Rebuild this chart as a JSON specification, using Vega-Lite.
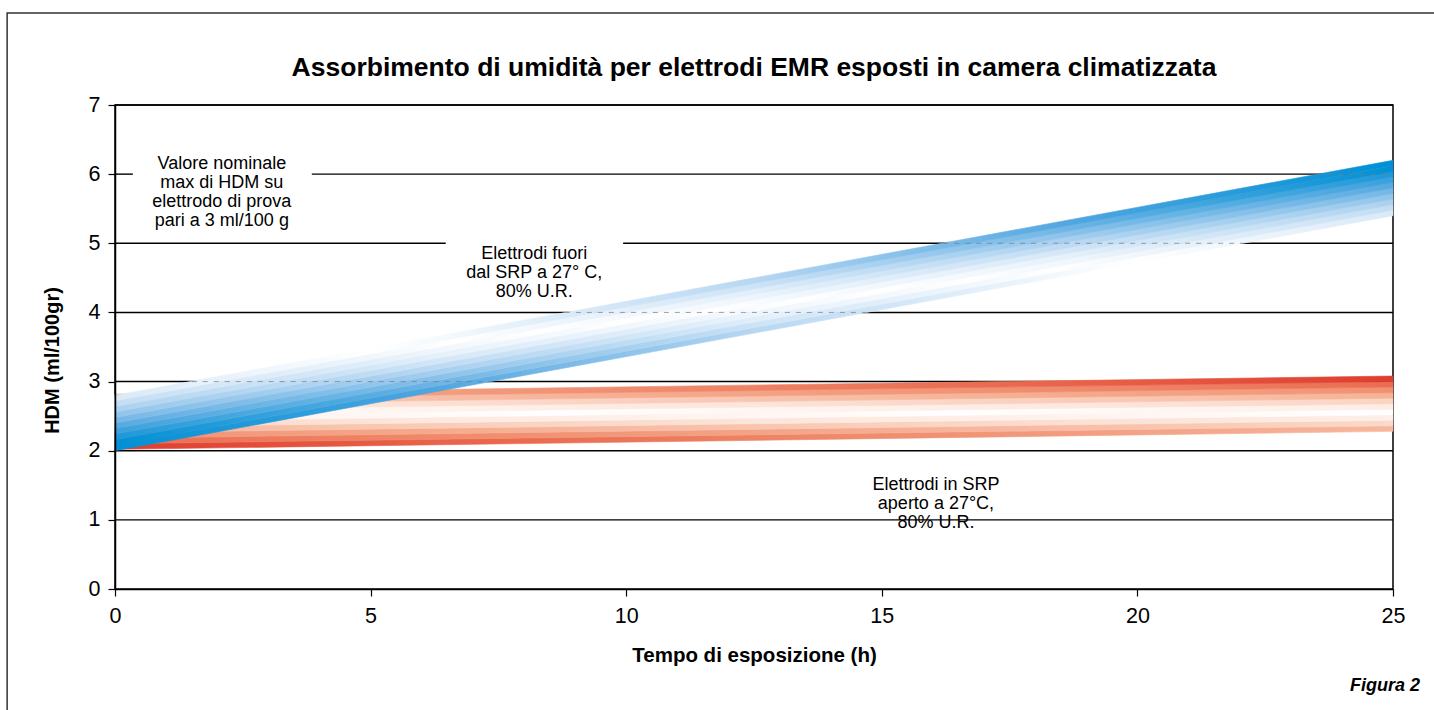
{
 "$schema": "https://vega.github.io/schema/vega-lite/v6.json",
 "autosize": "none",
 "width": 1278,
 "height": 484,
 "padding": {"left": 115, "top": 105, "right": 41, "bottom": 121},
 "background": "white",
 "config": {"font": "Liberation Sans", "view": {"stroke": "#000", "strokeWidth": 1.5}, "axis": {"labelFontSize": 21.5}},
 "title": {"text": "Assorbimento di umidità per elettrodi EMR esposti in camera climatizzata", "fontSize": 26.5, "fontWeight": "bold", "font": "Liberation Sans", "color": "#000", "anchor": "middle", "frame": "group", "baseline": "bottom", "offset": -96},
 "datasets": {
  "frame": [{"x": -2.11, "x2": 27, "y": 8.33, "y2": -2}],
  "grid": [
   {"x": 0, "x2": 25, "y": 1}, {"x": 0, "x2": 25, "y": 2}, {"x": 0, "x2": 25, "y": 3}, {"x": 0, "x2": 25, "y": 4},
   {"x": 0, "x2": 6.47, "y": 5}, {"x": 9.94, "x2": 25, "y": 5},
   {"x": 0, "x2": 0.35, "y": 6}, {"x": 3.85, "x2": 25, "y": 6},
   {"x": 0, "x2": 25, "y": 7}
  ],
  "gridOver": [
   {"x": 1.5, "x2": 7.35, "y": 3}, {"x": 8.8, "x2": 14.7, "y": 4}, {"x": 16.2, "x2": 22.1, "y": 5}, {"x": 23.5, "x2": 25, "y": 6}
  ],
  "red": [
   {"s": 0, "x": 0, "y": 2.02, "y2": 2.10}, {"s": 0, "x": 25, "y": 2.28, "y2": 2.36},
   {"s": 1, "x": 0, "y": 2.10, "y2": 2.18}, {"s": 1, "x": 25, "y": 2.36, "y2": 2.44},
   {"s": 2, "x": 0, "y": 2.18, "y2": 2.26}, {"s": 2, "x": 25, "y": 2.44, "y2": 2.52},
   {"s": 3, "x": 0, "y": 2.26, "y2": 2.34}, {"s": 3, "x": 25, "y": 2.52, "y2": 2.60},
   {"s": 4, "x": 0, "y": 2.34, "y2": 2.42}, {"s": 4, "x": 25, "y": 2.60, "y2": 2.68},
   {"s": 5, "x": 0, "y": 2.42, "y2": 2.50}, {"s": 5, "x": 25, "y": 2.68, "y2": 2.76},
   {"s": 6, "x": 0, "y": 2.50, "y2": 2.58}, {"s": 6, "x": 25, "y": 2.76, "y2": 2.84},
   {"s": 7, "x": 0, "y": 2.58, "y2": 2.66}, {"s": 7, "x": 25, "y": 2.84, "y2": 2.92},
   {"s": 8, "x": 0, "y": 2.66, "y2": 2.74}, {"s": 8, "x": 25, "y": 2.92, "y2": 3.00},
   {"s": 9, "x": 0, "y": 2.74, "y2": 2.82}, {"s": 9, "x": 25, "y": 3.00, "y2": 3.08}
  ],
  "blue": [
   {"s": 0, "x": 0, "y": 2.00, "y2": 2.08}, {"s": 0, "x": 25, "y": 5.40, "y2": 5.48},
   {"s": 1, "x": 0, "y": 2.08, "y2": 2.16}, {"s": 1, "x": 25, "y": 5.48, "y2": 5.56},
   {"s": 2, "x": 0, "y": 2.16, "y2": 2.24}, {"s": 2, "x": 25, "y": 5.56, "y2": 5.64},
   {"s": 3, "x": 0, "y": 2.24, "y2": 2.32}, {"s": 3, "x": 25, "y": 5.64, "y2": 5.72},
   {"s": 4, "x": 0, "y": 2.32, "y2": 2.40}, {"s": 4, "x": 25, "y": 5.72, "y2": 5.80},
   {"s": 5, "x": 0, "y": 2.40, "y2": 2.48}, {"s": 5, "x": 25, "y": 5.80, "y2": 5.88},
   {"s": 6, "x": 0, "y": 2.48, "y2": 2.56}, {"s": 6, "x": 25, "y": 5.88, "y2": 5.96},
   {"s": 7, "x": 0, "y": 2.56, "y2": 2.64}, {"s": 7, "x": 25, "y": 5.96, "y2": 6.04},
   {"s": 8, "x": 0, "y": 2.64, "y2": 2.72}, {"s": 8, "x": 25, "y": 6.04, "y2": 6.12},
   {"s": 9, "x": 0, "y": 2.72, "y2": 2.80}, {"s": 9, "x": 25, "y": 6.12, "y2": 6.20}
  ],
  "notes": [
   {"x": 2.09, "y": 6.15, "label": "Valore nominale\nmax di HDM su\nelettrodo di prova\npari a 3 ml/100 g"},
   {"x": 8.2, "y": 4.84, "label": "Elettrodi fuori\ndal SRP a 27° C,\n80% U.R."},
   {"x": 16.06, "y": 1.5, "label": "Elettrodi in SRP\naperto a 27°C,\n80% U.R."}
  ],
  "fig": [{"x": 25, "y": 0, "label": "Figura 2"}]
 },
 "encoding": {
  "x": {"field": "x", "type": "quantitative", "scale": {"domain": [0, 25], "nice": false, "zero": false},
   "axis": {"values": [0, 5, 10, 15, 20, 25], "format": "d", "grid": false, "labelFlush": false, "domainColor": "#000", "domainWidth": 1.5, "tickColor": "#000", "tickWidth": 1.2, "tickSize": 7, "labelFontSize": 21.5, "labelColor": "#000", "labelPadding": 9, "labelFont": "Liberation Sans", "title": "Tempo di esposizione (h)", "titleFont": "Liberation Sans", "titleFontSize": 20.5, "titleFontWeight": "bold", "titleColor": "#000", "titlePadding": 19, "zindex": 1}},
  "y": {"field": "y", "type": "quantitative", "scale": {"domain": [0, 7], "nice": false, "zero": false},
   "axis": {"values": [0, 1, 2, 3, 4, 5, 6, 7], "format": "d", "grid": false, "labelFlush": false, "domainColor": "#000", "domainWidth": 1.5, "tickColor": "#000", "tickWidth": 1.2, "tickSize": 7, "labelFontSize": 21.5, "labelColor": "#000", "labelPadding": 8, "labelFont": "Liberation Sans", "title": "HDM (ml/100gr)", "titleFont": "Liberation Sans", "titleFontSize": 20, "titleFontWeight": "bold", "titleColor": "#000", "titlePadding": 26, "titleY": 255, "zindex": 1}}
 },
 "layer": [
  {"data": {"name": "frame"}, "mark": {"type": "rect", "filled": false, "stroke": "#333", "strokeWidth": 1.5, "clip": false}, "encoding": {"x2": {"field": "x2"}, "y2": {"field": "y2"}}},
  {"data": {"name": "grid"}, "mark": {"type": "rule", "color": "#000", "strokeWidth": 1.4}, "encoding": {"x2": {"field": "x2"}}},

  {"data": {"name": "red"}, "transform": [{"filter": "datum.s == 0"}], "mark": {"type": "area", "strokeWidth": 0.6,
   "fill": {"gradient": "linear", "x1": 0, "y1": 0, "x2": 1, "y2": 0, "stops": [{"offset": 0, "color": "#df3d2f"}, {"offset": 0.25, "color": "#e86349"}, {"offset": 0.5, "color": "#ee8264"}, {"offset": 0.75, "color": "#f39d7f"}, {"offset": 1, "color": "#f7b89e"}]},
   "stroke": {"gradient": "linear", "x1": 0, "y1": 0, "x2": 1, "y2": 0, "stops": [{"offset": 0, "color": "#df3d2f"}, {"offset": 0.25, "color": "#e86349"}, {"offset": 0.5, "color": "#ee8264"}, {"offset": 0.75, "color": "#f39d7f"}, {"offset": 1, "color": "#f7b89e"}]}}, "encoding": {"y2": {"field": "y2"}}},
  {"data": {"name": "red"}, "transform": [{"filter": "datum.s == 1"}], "mark": {"type": "area", "strokeWidth": 0.6,
   "fill": {"gradient": "linear", "x1": 0, "y1": 0, "x2": 1, "y2": 0, "stops": [{"offset": 0, "color": "#ea6c50"}, {"offset": 0.25, "color": "#f0896b"}, {"offset": 0.5, "color": "#f4a385"}, {"offset": 0.75, "color": "#f8bea7"}, {"offset": 1, "color": "#fbdacb"}]},
   "stroke": {"gradient": "linear", "x1": 0, "y1": 0, "x2": 1, "y2": 0, "stops": [{"offset": 0, "color": "#ea6c50"}, {"offset": 0.25, "color": "#f0896b"}, {"offset": 0.5, "color": "#f4a385"}, {"offset": 0.75, "color": "#f8bea7"}, {"offset": 1, "color": "#fbdacb"}]}}, "encoding": {"y2": {"field": "y2"}}},
  {"data": {"name": "red"}, "transform": [{"filter": "datum.s == 2"}], "mark": {"type": "area", "strokeWidth": 0.6,
   "fill": {"gradient": "linear", "x1": 0, "y1": 0, "x2": 1, "y2": 0, "stops": [{"offset": 0, "color": "#f18f71"}, {"offset": 0.25, "color": "#f5aa8c"}, {"offset": 0.5, "color": "#f8c5b0"}, {"offset": 0.75, "color": "#fce0d4"}, {"offset": 1, "color": "#fdefe9"}]},
   "stroke": {"gradient": "linear", "x1": 0, "y1": 0, "x2": 1, "y2": 0, "stops": [{"offset": 0, "color": "#f18f71"}, {"offset": 0.25, "color": "#f5aa8c"}, {"offset": 0.5, "color": "#f8c5b0"}, {"offset": 0.75, "color": "#fce0d4"}, {"offset": 1, "color": "#fdefe9"}]}}, "encoding": {"y2": {"field": "y2"}}},
  {"data": {"name": "red"}, "transform": [{"filter": "datum.s == 3"}], "mark": {"type": "area", "strokeWidth": 0.6,
   "fill": {"gradient": "linear", "x1": 0, "y1": 0, "x2": 1, "y2": 0, "stops": [{"offset": 0, "color": "#f6b195"}, {"offset": 0.25, "color": "#f9ccb9"}, {"offset": 0.5, "color": "#fce5da"}, {"offset": 0.75, "color": "#fef3ee"}, {"offset": 0.969, "color": "#ffffff"}, {"offset": 1, "color": "#fffdfd"}]},
   "stroke": {"gradient": "linear", "x1": 0, "y1": 0, "x2": 1, "y2": 0, "stops": [{"offset": 0, "color": "#f6b195"}, {"offset": 0.25, "color": "#f9ccb9"}, {"offset": 0.5, "color": "#fce5da"}, {"offset": 0.75, "color": "#fef3ee"}, {"offset": 0.969, "color": "#ffffff"}, {"offset": 1, "color": "#fffdfd"}]}}, "encoding": {"y2": {"field": "y2"}}},
  {"data": {"name": "red"}, "transform": [{"filter": "datum.s == 4"}], "mark": {"type": "area", "strokeWidth": 0.6,
   "fill": {"gradient": "linear", "x1": 0, "y1": 0, "x2": 1, "y2": 0, "stops": [{"offset": 0, "color": "#fad3c2"}, {"offset": 0.25, "color": "#fde8df"}, {"offset": 0.5, "color": "#fef6f3"}, {"offset": 0.656, "color": "#ffffff"}, {"offset": 0.75, "color": "#fefaf8"}, {"offset": 1, "color": "#fdece4"}]},
   "stroke": {"gradient": "linear", "x1": 0, "y1": 0, "x2": 1, "y2": 0, "stops": [{"offset": 0, "color": "#fad3c2"}, {"offset": 0.25, "color": "#fde8df"}, {"offset": 0.5, "color": "#fef6f3"}, {"offset": 0.656, "color": "#ffffff"}, {"offset": 0.75, "color": "#fefaf8"}, {"offset": 1, "color": "#fdece4"}]}}, "encoding": {"y2": {"field": "y2"}}},
  {"data": {"name": "red"}, "transform": [{"filter": "datum.s == 5"}], "mark": {"type": "area", "strokeWidth": 0.6,
   "fill": {"gradient": "linear", "x1": 0, "y1": 0, "x2": 1, "y2": 0, "stops": [{"offset": 0, "color": "#fdece4"}, {"offset": 0.25, "color": "#fefaf8"}, {"offset": 0.344, "color": "#ffffff"}, {"offset": 0.5, "color": "#fef6f3"}, {"offset": 0.75, "color": "#fde8df"}, {"offset": 1, "color": "#fad3c2"}]},
   "stroke": {"gradient": "linear", "x1": 0, "y1": 0, "x2": 1, "y2": 0, "stops": [{"offset": 0, "color": "#fdece4"}, {"offset": 0.25, "color": "#fefaf8"}, {"offset": 0.344, "color": "#ffffff"}, {"offset": 0.5, "color": "#fef6f3"}, {"offset": 0.75, "color": "#fde8df"}, {"offset": 1, "color": "#fad3c2"}]}}, "encoding": {"y2": {"field": "y2"}}},
  {"data": {"name": "red"}, "transform": [{"filter": "datum.s == 6"}], "mark": {"type": "area", "strokeWidth": 0.6,
   "fill": {"gradient": "linear", "x1": 0, "y1": 0, "x2": 1, "y2": 0, "stops": [{"offset": 0, "color": "#fffdfd"}, {"offset": 0.031, "color": "#ffffff"}, {"offset": 0.25, "color": "#fef3ee"}, {"offset": 0.5, "color": "#fce5da"}, {"offset": 0.75, "color": "#f9ccb9"}, {"offset": 1, "color": "#f6b195"}]},
   "stroke": {"gradient": "linear", "x1": 0, "y1": 0, "x2": 1, "y2": 0, "stops": [{"offset": 0, "color": "#fffdfd"}, {"offset": 0.031, "color": "#ffffff"}, {"offset": 0.25, "color": "#fef3ee"}, {"offset": 0.5, "color": "#fce5da"}, {"offset": 0.75, "color": "#f9ccb9"}, {"offset": 1, "color": "#f6b195"}]}}, "encoding": {"y2": {"field": "y2"}}},
  {"data": {"name": "red"}, "transform": [{"filter": "datum.s == 7"}], "mark": {"type": "area", "strokeWidth": 0.6,
   "fill": {"gradient": "linear", "x1": 0, "y1": 0, "x2": 1, "y2": 0, "stops": [{"offset": 0, "color": "#fdefe9"}, {"offset": 0.25, "color": "#fce0d4"}, {"offset": 0.5, "color": "#f8c5b0"}, {"offset": 0.75, "color": "#f5aa8c"}, {"offset": 1, "color": "#f18f71"}]},
   "stroke": {"gradient": "linear", "x1": 0, "y1": 0, "x2": 1, "y2": 0, "stops": [{"offset": 0, "color": "#fdefe9"}, {"offset": 0.25, "color": "#fce0d4"}, {"offset": 0.5, "color": "#f8c5b0"}, {"offset": 0.75, "color": "#f5aa8c"}, {"offset": 1, "color": "#f18f71"}]}}, "encoding": {"y2": {"field": "y2"}}},
  {"data": {"name": "red"}, "transform": [{"filter": "datum.s == 8"}], "mark": {"type": "area", "strokeWidth": 0.6,
   "fill": {"gradient": "linear", "x1": 0, "y1": 0, "x2": 1, "y2": 0, "stops": [{"offset": 0, "color": "#fbdacb"}, {"offset": 0.25, "color": "#f8bea7"}, {"offset": 0.5, "color": "#f4a385"}, {"offset": 0.75, "color": "#f0896b"}, {"offset": 1, "color": "#ea6c50"}]},
   "stroke": {"gradient": "linear", "x1": 0, "y1": 0, "x2": 1, "y2": 0, "stops": [{"offset": 0, "color": "#fbdacb"}, {"offset": 0.25, "color": "#f8bea7"}, {"offset": 0.5, "color": "#f4a385"}, {"offset": 0.75, "color": "#f0896b"}, {"offset": 1, "color": "#ea6c50"}]}}, "encoding": {"y2": {"field": "y2"}}},
  {"data": {"name": "red"}, "transform": [{"filter": "datum.s == 9"}], "mark": {"type": "area", "strokeWidth": 0.6,
   "fill": {"gradient": "linear", "x1": 0, "y1": 0, "x2": 1, "y2": 0, "stops": [{"offset": 0, "color": "#f7b89e"}, {"offset": 0.25, "color": "#f39d7f"}, {"offset": 0.5, "color": "#ee8264"}, {"offset": 0.75, "color": "#e86349"}, {"offset": 1, "color": "#df3d2f"}]},
   "stroke": {"gradient": "linear", "x1": 0, "y1": 0, "x2": 1, "y2": 0, "stops": [{"offset": 0, "color": "#f7b89e"}, {"offset": 0.25, "color": "#f39d7f"}, {"offset": 0.5, "color": "#ee8264"}, {"offset": 0.75, "color": "#e86349"}, {"offset": 1, "color": "#df3d2f"}]}}, "encoding": {"y2": {"field": "y2"}}},

  {"data": {"name": "blue"}, "transform": [{"filter": "datum.s == 0"}], "mark": {"type": "area", "strokeWidth": 0.6,
   "fill": {"gradient": "linear", "x1": 0, "y1": 0, "x2": 1, "y2": 0, "stops": [{"offset": 0, "color": "#0090d5"}, {"offset": 0.25, "color": "#50a6e0"}, {"offset": 0.5, "color": "#b7d7f2"}, {"offset": 0.75, "color": "#f6fafd"}, {"offset": 0.8, "color": "#ffffff"}, {"offset": 1, "color": "#d8e9f8"}]},
   "stroke": {"gradient": "linear", "x1": 0, "y1": 0, "x2": 1, "y2": 0, "stops": [{"offset": 0, "color": "#0090d5"}, {"offset": 0.25, "color": "#50a6e0"}, {"offset": 0.5, "color": "#b7d7f2"}, {"offset": 0.75, "color": "#f6fafd"}, {"offset": 0.8, "color": "#ffffff"}, {"offset": 1, "color": "#d8e9f8"}]}}, "encoding": {"y2": {"field": "y2"}}},
  {"data": {"name": "blue"}, "transform": [{"filter": "datum.s == 1"}], "mark": {"type": "area", "strokeWidth": 0.6,
   "fill": {"gradient": "linear", "x1": 0, "y1": 0, "x2": 1, "y2": 0, "stops": [{"offset": 0, "color": "#0090d5"}, {"offset": 0.25, "color": "#6db4e5"}, {"offset": 0.5, "color": "#cde3f6"}, {"offset": 0.7333, "color": "#ffffff"}, {"offset": 0.75, "color": "#fcfdfe"}, {"offset": 1, "color": "#c2ddf4"}]},
   "stroke": {"gradient": "linear", "x1": 0, "y1": 0, "x2": 1, "y2": 0, "stops": [{"offset": 0, "color": "#0090d5"}, {"offset": 0.25, "color": "#6db4e5"}, {"offset": 0.5, "color": "#cde3f6"}, {"offset": 0.7333, "color": "#ffffff"}, {"offset": 0.75, "color": "#fcfdfe"}, {"offset": 1, "color": "#c2ddf4"}]}}, "encoding": {"y2": {"field": "y2"}}},
  {"data": {"name": "blue"}, "transform": [{"filter": "datum.s == 2"}], "mark": {"type": "area", "strokeWidth": 0.6,
   "fill": {"gradient": "linear", "x1": 0, "y1": 0, "x2": 1, "y2": 0, "stops": [{"offset": 0, "color": "#1d98d9"}, {"offset": 0.25, "color": "#8ac1ea"}, {"offset": 0.5, "color": "#e1eefa"}, {"offset": 0.6667, "color": "#ffffff"}, {"offset": 0.75, "color": "#f0f6fc"}, {"offset": 1, "color": "#abd1f0"}]},
   "stroke": {"gradient": "linear", "x1": 0, "y1": 0, "x2": 1, "y2": 0, "stops": [{"offset": 0, "color": "#1d98d9"}, {"offset": 0.25, "color": "#8ac1ea"}, {"offset": 0.5, "color": "#e1eefa"}, {"offset": 0.6667, "color": "#ffffff"}, {"offset": 0.75, "color": "#f0f6fc"}, {"offset": 1, "color": "#abd1f0"}]}}, "encoding": {"y2": {"field": "y2"}}},
  {"data": {"name": "blue"}, "transform": [{"filter": "datum.s == 3"}], "mark": {"type": "area", "strokeWidth": 0.6,
   "fill": {"gradient": "linear", "x1": 0, "y1": 0, "x2": 1, "y2": 0, "stops": [{"offset": 0, "color": "#3aa0dd"}, {"offset": 0.25, "color": "#a6ceef"}, {"offset": 0.5, "color": "#edf5fc"}, {"offset": 0.6, "color": "#ffffff"}, {"offset": 0.75, "color": "#e4f0fa"}, {"offset": 1, "color": "#91c4eb"}]},
   "stroke": {"gradient": "linear", "x1": 0, "y1": 0, "x2": 1, "y2": 0, "stops": [{"offset": 0, "color": "#3aa0dd"}, {"offset": 0.25, "color": "#a6ceef"}, {"offset": 0.5, "color": "#edf5fc"}, {"offset": 0.6, "color": "#ffffff"}, {"offset": 0.75, "color": "#e4f0fa"}, {"offset": 1, "color": "#91c4eb"}]}}, "encoding": {"y2": {"field": "y2"}}},
  {"data": {"name": "blue"}, "transform": [{"filter": "datum.s == 4"}], "mark": {"type": "area", "strokeWidth": 0.6,
   "fill": {"gradient": "linear", "x1": 0, "y1": 0, "x2": 1, "y2": 0, "stops": [{"offset": 0, "color": "#57a9e1"}, {"offset": 0.25, "color": "#bcdaf3"}, {"offset": 0.5, "color": "#f9fcfe"}, {"offset": 0.5333, "color": "#ffffff"}, {"offset": 0.75, "color": "#d3e6f7"}, {"offset": 1, "color": "#74b7e6"}]},
   "stroke": {"gradient": "linear", "x1": 0, "y1": 0, "x2": 1, "y2": 0, "stops": [{"offset": 0, "color": "#57a9e1"}, {"offset": 0.25, "color": "#bcdaf3"}, {"offset": 0.5, "color": "#f9fcfe"}, {"offset": 0.5333, "color": "#ffffff"}, {"offset": 0.75, "color": "#d3e6f7"}, {"offset": 1, "color": "#74b7e6"}]}}, "encoding": {"y2": {"field": "y2"}}},
  {"data": {"name": "blue"}, "transform": [{"filter": "datum.s == 5"}], "mark": {"type": "area", "strokeWidth": 0.6,
   "fill": {"gradient": "linear", "x1": 0, "y1": 0, "x2": 1, "y2": 0, "stops": [{"offset": 0, "color": "#74b7e6"}, {"offset": 0.25, "color": "#d3e6f7"}, {"offset": 0.4667, "color": "#ffffff"}, {"offset": 0.5, "color": "#f9fcfe"}, {"offset": 0.75, "color": "#bcdaf3"}, {"offset": 1, "color": "#57a9e1"}]},
   "stroke": {"gradient": "linear", "x1": 0, "y1": 0, "x2": 1, "y2": 0, "stops": [{"offset": 0, "color": "#74b7e6"}, {"offset": 0.25, "color": "#d3e6f7"}, {"offset": 0.4667, "color": "#ffffff"}, {"offset": 0.5, "color": "#f9fcfe"}, {"offset": 0.75, "color": "#bcdaf3"}, {"offset": 1, "color": "#57a9e1"}]}}, "encoding": {"y2": {"field": "y2"}}},
  {"data": {"name": "blue"}, "transform": [{"filter": "datum.s == 6"}], "mark": {"type": "area", "strokeWidth": 0.6,
   "fill": {"gradient": "linear", "x1": 0, "y1": 0, "x2": 1, "y2": 0, "stops": [{"offset": 0, "color": "#91c4eb"}, {"offset": 0.25, "color": "#e4f0fa"}, {"offset": 0.4, "color": "#ffffff"}, {"offset": 0.5, "color": "#edf5fc"}, {"offset": 0.75, "color": "#a6ceef"}, {"offset": 1, "color": "#3aa0dd"}]},
   "stroke": {"gradient": "linear", "x1": 0, "y1": 0, "x2": 1, "y2": 0, "stops": [{"offset": 0, "color": "#91c4eb"}, {"offset": 0.25, "color": "#e4f0fa"}, {"offset": 0.4, "color": "#ffffff"}, {"offset": 0.5, "color": "#edf5fc"}, {"offset": 0.75, "color": "#a6ceef"}, {"offset": 1, "color": "#3aa0dd"}]}}, "encoding": {"y2": {"field": "y2"}}},
  {"data": {"name": "blue"}, "transform": [{"filter": "datum.s == 7"}], "mark": {"type": "area", "strokeWidth": 0.6,
   "fill": {"gradient": "linear", "x1": 0, "y1": 0, "x2": 1, "y2": 0, "stops": [{"offset": 0, "color": "#abd1f0"}, {"offset": 0.25, "color": "#f0f6fc"}, {"offset": 0.3333, "color": "#ffffff"}, {"offset": 0.5, "color": "#e1eefa"}, {"offset": 0.75, "color": "#8ac1ea"}, {"offset": 1, "color": "#1d98d9"}]},
   "stroke": {"gradient": "linear", "x1": 0, "y1": 0, "x2": 1, "y2": 0, "stops": [{"offset": 0, "color": "#abd1f0"}, {"offset": 0.25, "color": "#f0f6fc"}, {"offset": 0.3333, "color": "#ffffff"}, {"offset": 0.5, "color": "#e1eefa"}, {"offset": 0.75, "color": "#8ac1ea"}, {"offset": 1, "color": "#1d98d9"}]}}, "encoding": {"y2": {"field": "y2"}}},
  {"data": {"name": "blue"}, "transform": [{"filter": "datum.s == 8"}], "mark": {"type": "area", "strokeWidth": 0.6,
   "fill": {"gradient": "linear", "x1": 0, "y1": 0, "x2": 1, "y2": 0, "stops": [{"offset": 0, "color": "#c2ddf4"}, {"offset": 0.25, "color": "#fcfdfe"}, {"offset": 0.2667, "color": "#ffffff"}, {"offset": 0.5, "color": "#cde3f6"}, {"offset": 0.75, "color": "#6db4e5"}, {"offset": 1, "color": "#0090d5"}]},
   "stroke": {"gradient": "linear", "x1": 0, "y1": 0, "x2": 1, "y2": 0, "stops": [{"offset": 0, "color": "#c2ddf4"}, {"offset": 0.25, "color": "#fcfdfe"}, {"offset": 0.2667, "color": "#ffffff"}, {"offset": 0.5, "color": "#cde3f6"}, {"offset": 0.75, "color": "#6db4e5"}, {"offset": 1, "color": "#0090d5"}]}}, "encoding": {"y2": {"field": "y2"}}},
  {"data": {"name": "blue"}, "transform": [{"filter": "datum.s == 9"}], "mark": {"type": "area", "strokeWidth": 0.6,
   "fill": {"gradient": "linear", "x1": 0, "y1": 0, "x2": 1, "y2": 0, "stops": [{"offset": 0, "color": "#d8e9f8"}, {"offset": 0.2, "color": "#ffffff"}, {"offset": 0.25, "color": "#f6fafd"}, {"offset": 0.5, "color": "#b7d7f2"}, {"offset": 0.75, "color": "#50a6e0"}, {"offset": 1, "color": "#0090d5"}]},
   "stroke": {"gradient": "linear", "x1": 0, "y1": 0, "x2": 1, "y2": 0, "stops": [{"offset": 0, "color": "#d8e9f8"}, {"offset": 0.2, "color": "#ffffff"}, {"offset": 0.25, "color": "#f6fafd"}, {"offset": 0.5, "color": "#b7d7f2"}, {"offset": 0.75, "color": "#50a6e0"}, {"offset": 1, "color": "#0090d5"}]}}, "encoding": {"y2": {"field": "y2"}}},

  {"data": {"name": "gridOver"}, "mark": {"type": "rule", "color": "#7a7a7a", "strokeWidth": 1, "strokeDash": [5, 6], "opacity": 0.7}, "encoding": {"x2": {"field": "x2"}}},
  {"data": {"name": "notes"}, "mark": {"type": "text", "font": "Liberation Sans", "fontSize": 18, "lineHeight": 19, "lineBreak": "\n", "align": "center", "baseline": "middle", "color": "#000"}, "encoding": {"text": {"field": "label"}}},
  {"data": {"name": "fig"}, "mark": {"type": "text", "font": "Liberation Sans", "fontSize": 18, "fontWeight": "bold", "fontStyle": "italic", "align": "right", "baseline": "middle", "dx": 27, "dy": 97, "color": "#000"}, "encoding": {"text": {"field": "label"}}}
 ]
}
